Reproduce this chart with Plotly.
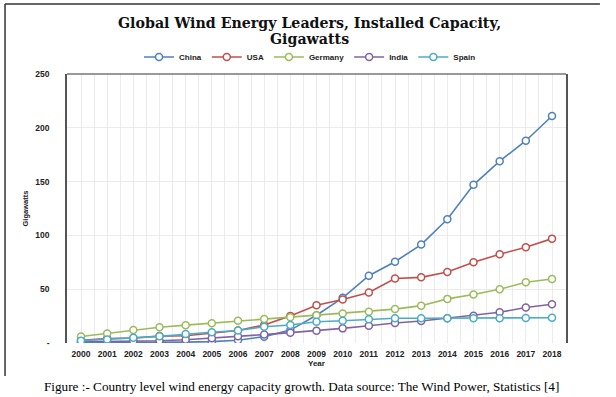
import plotly.graph_objects as go

years = list(range(2000, 2019))
china = [0.35, 0.4, 0.5, 0.6, 0.8, 1.3, 2.6, 5.9, 12.0, 25.8, 42.0, 62.5, 75.5, 91.5, 115.0, 147.0, 169.0, 188.0, 211.0]
usa = [2.5, 4.2, 4.7, 6.4, 6.7, 9.1, 11.6, 16.8, 25.2, 35.1, 40.5, 47.0, 60.0, 61.0, 66.0, 75.0, 82.5, 89.0, 97.0]
germany = [6.1, 8.8, 12.0, 14.6, 16.6, 18.4, 20.6, 22.2, 23.9, 25.7, 27.5, 29.0, 31.5, 34.7, 41.0, 45.0, 50.0, 56.4, 59.5]
india = [1.2, 1.5, 1.7, 2.1, 3.0, 4.4, 6.3, 7.8, 9.6, 11.5, 13.6, 16.0, 18.6, 20.4, 23.0, 25.4, 28.5, 33.0, 36.0]
spain = [2.2, 3.3, 4.8, 6.2, 8.3, 10.0, 11.6, 15.1, 16.7, 19.8, 20.7, 22.0, 23.0, 23.0, 23.0, 23.0, 23.0, 23.2, 23.5]

series_names = ["China", "USA", "Germany", "India", "Spain"]
series_values = [china, usa, germany, india, spain]
colors = ["#4F81BD", "#C0504D", "#9BBB59", "#8064A2", "#4BACC6"]

y_tickvals = [0, 50, 100, 150, 200, 250]
y_ticktext = ["-", "50", "100", "150", "200", "250"]

fig = go.Figure()
for name, vals, col in zip(series_names, series_values, colors):
    fig.add_trace(go.Scatter(
        x=years, y=vals, name=name, mode="lines+markers",
        line=dict(color=col, width=1.6),
        marker=dict(symbol="circle", size=7, color="white", line=dict(color=col, width=1.5)),
    ))

tick_font = dict(family="Liberation Sans", size=8.5, color="#222222", weight="bold")

fig.update_layout(
    width=616, height=397,
    margin=dict(l=67, r=50, t=74, b=54),
    paper_bgcolor="white", plot_bgcolor="white",
    showlegend=True,
    legend=dict(orientation="h", x=0.487, xanchor="center", y=1.063, yanchor="middle",
                font=dict(family="Liberation Sans", size=8, color="#222222", weight="bold"),
                itemwidth=30, tracegroupgap=0, bgcolor="rgba(0,0,0,0)"),
    xaxis=dict(range=[1999.465, 2018.535], tickmode="array", tickvals=years,
               ticktext=[str(y) for y in years], tickfont=tick_font,
               showgrid=True, gridcolor="#ebebeb", gridwidth=1,
               minor=dict(dtick=0.5, tick0=1999.5, showgrid=True, gridcolor="#ebebeb", gridwidth=1),
               showline=False, zeroline=False, ticks="", ticklabelstandoff=4),
    yaxis=dict(range=[0, 250], tickmode="array", tickvals=y_tickvals, ticktext=y_ticktext,
               tickfont=tick_font, showgrid=True, gridcolor="#ebebeb", gridwidth=1,
               showline=True, linecolor="#555555", linewidth=1.5, mirror=True,
               zeroline=False, ticks="", ticklabelstandoff=14),
    shapes=[
        dict(type="line", xref="paper", yref="paper", x0=0, x1=1, y0=1, y1=1,
             line=dict(color="#777777", width=1.5)),
        dict(type="line", xref="paper", yref="paper", x0=-0.1242, x1=1.068, y0=1.26, y1=1.26,
             line=dict(color="#333333", width=1.5)),
        dict(type="line", xref="paper", yref="paper", x0=-0.1242, x1=-0.1242, y0=1.26, y1=-0.1227,
             line=dict(color="#333333", width=1.5)),
    ],
    annotations=[
        dict(text="<b>Global Wind Energy Leaders, Installed Capacity,</b>", xref="paper", yref="paper",
             x=(309 - 67) / 499, y=(343 - 22.5) / 269, xanchor="center", yanchor="middle", showarrow=False,
             font=dict(family="DejaVu Serif", size=14.2, color="#111111")),
        dict(text="<b>Gigawatts</b>", xref="paper", yref="paper",
             x=(309 - 67) / 499, y=(343 - 39) / 269, xanchor="center", yanchor="middle", showarrow=False,
             font=dict(family="DejaVu Serif", size=14.2, color="#111111")),
        dict(text="<b>Year</b>", xref="paper", yref="paper", x=0.5, y=(343 - 363) / 269,
             xanchor="center", yanchor="middle", showarrow=False,
             font=dict(family="Liberation Sans", size=8, color="#222222")),
        dict(text="<b>Gigawatts</b>", xref="paper", yref="paper", x=(25 - 67) / 499, y=0.5,
             xanchor="center", yanchor="middle", showarrow=False, textangle=-90,
             font=dict(family="Liberation Sans", size=7.5, color="#222222")),
        dict(text="Figure :- Country level wind energy capacity growth. Data source: The Wind Power, Statistics [4]",
             xref="paper", yref="paper", x=(301 - 67) / 499, y=(343 - 386) / 269,
             xanchor="center", yanchor="middle", showarrow=False,
             font=dict(family="Liberation Serif", size=13.2, color="#000000")),
    ],
)

fig.write_html("out.html", config={"displayModeBar": False},
               post_script="document.body.style.margin='0';document.body.style.padding='0';")
